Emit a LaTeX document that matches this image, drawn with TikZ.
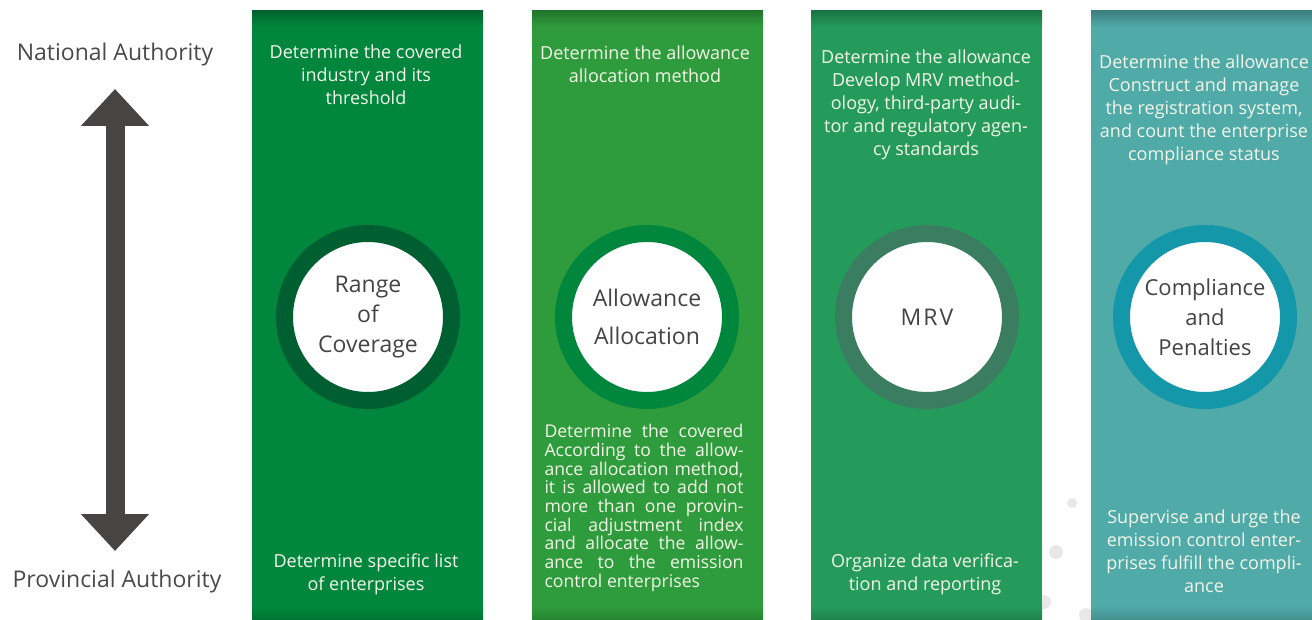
\documentclass[tikz,border=0pt]{standalone}
\usepackage{fontspec}
\setmainfont{Open Sans}
\usetikzlibrary{arrows.meta}
\definecolor{cAfill}{HTML}{00873D}
\definecolor{cAring}{HTML}{005F30}
\definecolor{cBfill}{HTML}{2E9C3C}
\definecolor{cBring}{HTML}{00873D}
\definecolor{cCfill}{HTML}{259B5B}
\definecolor{cCring}{HTML}{3A7D60}
\definecolor{cDfill}{HTML}{50AAA8}
\definecolor{cDring}{HTML}{1497A8}
\definecolor{coltxt}{HTML}{F3F6E8}
\definecolor{circtxt}{HTML}{444444}
\definecolor{sidetxt}{HTML}{4A4A4A}
\definecolor{arrowc}{HTML}{474444}
\definecolor{dotc}{HTML}{E8E8E8}
\begin{document}
\begin{tikzpicture}[x=1pt,y=-1pt,
  colbox/.style={draw=none, anchor=north west, minimum width=231pt, minimum height=609pt, inner sep=0pt, outer sep=0pt},
  coltext/.style={text=coltxt, font=\fontsize{18}{23}\selectfont, align=center, inner sep=0pt},
  ringnode/.style={circle, fill=white, line width=17pt, minimum size=167pt, inner sep=0pt},
  circtext/.style={text=circtxt, font=\fontsize{23}{30}\selectfont, align=center, inner sep=0pt},
  sidetext/.style={text=sidetxt, font=\fontsize{23}{26}\selectfont, inner sep=0pt},
  bigarrow/.style={draw=arrowc, line width=19pt,
    {Triangle[width=66pt,length=37pt]}-{Triangle[width=66pt,length=37pt]}},
  greydot/.style={fill=dotc, draw=none}
]
\useasboundingbox (0,0) rectangle (1312,620);
\fill[white] (0,0) rectangle (1312,620);

% faint decorative dots
\fill[greydot] (1072,503) circle (5);
\fill[greydot] (1056,552) circle (7);
\fill[greydot] (1044,602) circle (7);
\fill[greydot] (1086,615) circle (7);

% columns
\node[colbox, fill=cAfill] (colA) at (252,11) {};
\node[colbox, fill=cBfill] (colB) at (532,11) {};
\node[colbox, fill=cCfill] (colC) at (811,11) {};
\node[colbox, fill=cDfill] (colD) at (1091,11) {};

% subtle top/bottom shading
\shade[top color=cAfill!75!black, bottom color=cAfill] (colA.north west) rectangle ([yshift=-16pt]colA.north east);
\shade[top color=cBfill!75!black, bottom color=cBfill] (colB.north west) rectangle ([yshift=-16pt]colB.north east);
\shade[top color=cCfill!75!black, bottom color=cCfill] (colC.north west) rectangle ([yshift=-16pt]colC.north east);
\shade[top color=cDfill!75!black, bottom color=cDfill] (colD.north west) rectangle ([yshift=-16pt]colD.north east);
\shade[bottom color=cAfill!85!black, top color=cAfill] ([yshift=14pt]colA.south west) rectangle (colA.south east);
\shade[bottom color=cBfill!85!black, top color=cBfill] ([yshift=14pt]colB.south west) rectangle (colB.south east);
\shade[bottom color=cCfill!85!black, top color=cCfill] ([yshift=14pt]colC.south west) rectangle (colC.south east);
\shade[bottom color=cDfill!85!black, top color=cDfill] ([yshift=14pt]colD.south west) rectangle (colD.south east);

% side labels and arrow
\node[sidetext] (national) at (115,55) {National Authority};
\node[sidetext] (provincial) at (117,582) {Provincial Authority};
\coordinate (arrtop) at (115,89);
\coordinate (arrbot) at (115,551);
\draw[bigarrow] (arrtop) -- (arrbot);

% rings
\node[ringnode, draw=cAring] (ringA) at (368,317) {};
\node[ringnode, draw=cBring] (ringB) at (647,317) {};
\node[ringnode, draw=cCring] (ringC) at (927,317) {};
\node[ringnode, draw=cDring] (ringD) at (1205,317) {};

\node[circtext] (labA) at (ringA) {Range\\of\\Coverage};
\node[circtext, font=\fontsize{23}{38}\selectfont] (labB) at (ringB) {Allowance\\Allocation};
\node[circtext] (labC) at (ringC) {M\kern2pt R\kern2pt V};
\node[circtext, font=\fontsize{22}{30}\selectfont] (labD) at (ringD) {Compliance\\and\\Penalties};

% column texts
\node[coltext] (topA) at (366,75) {Determine the covered\\industry and its\\threshold};
\node[coltext] (botA) at (366,574) {Determine specific list\\of enterprises};

\node[coltext] (topB) at (645,64) {Determine the allowance\\allocation method};
\node[coltext, font=\fontsize{17.6}{18.7}\selectfont, align=left] (botB) at (644,508) {%
\makebox[199pt][s]{Determine the covered}\\
\makebox[199pt][s]{According to the allow-}\\
\makebox[199pt][s]{ance allocation method,}\\
\makebox[199pt][s]{it is allowed to add not}\\
\makebox[199pt][s]{more than one provin-}\\
\makebox[199pt][s]{cial adjustment index}\\
\makebox[199pt][s]{and allocate the allow-}\\
\makebox[199pt][s]{ance to the emission}\\
\makebox[199pt][l]{control enterprises}};

\node[coltext] (topC) at (926,105) {Determine the allowance\\Develop MRV method-\\ology, third-party audi-\\tor and regulatory agen-\\cy standards};
\node[coltext] (botC) at (925,574) {Organize data verifica-\\tion and reporting};

\node[coltext] (topD) at (1204,110) {Determine the allowance\\Construct and manage\\the registration system,\\and count the enterprise\\compliance status};
\node[coltext] (botD) at (1204,551.5) {Supervise and urge the\\emission control enter-\\prises fulfill the compli-\\ance};
\end{tikzpicture}
\end{document}
